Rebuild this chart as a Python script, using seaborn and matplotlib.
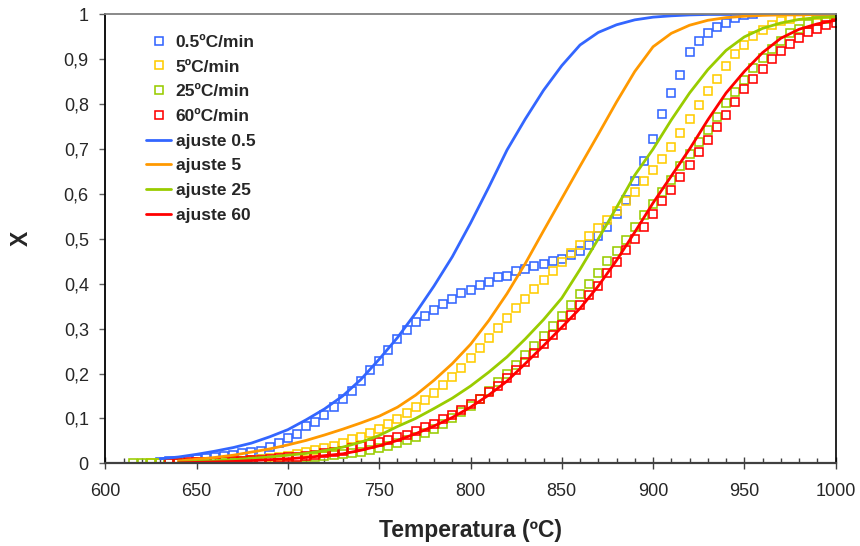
import numpy as np
import pandas as pd
import matplotlib
matplotlib.use("Agg")
import matplotlib.pyplot as plt
import seaborn as sns
from matplotlib.ticker import MultipleLocator, FuncFormatter

# ---- measured conversion X vs temperature (ºC), one reading every 5 ºC ----
t_05 = list(range(630, 956, 5))
x_05 = [0.003, 0.004, 0.005, 0.007, 0.009, 0.011, 0.013, 0.016, 0.018, 0.022,
        0.025, 0.028, 0.036, 0.046, 0.057, 0.066, 0.083, 0.091, 0.108, 0.126,
        0.143, 0.162, 0.184, 0.207, 0.228, 0.253, 0.277, 0.297, 0.315, 0.328,
        0.342, 0.355, 0.367, 0.379, 0.386, 0.398, 0.405, 0.414, 0.417, 0.428,
        0.433, 0.439, 0.445, 0.450, 0.456, 0.465, 0.474, 0.487, 0.506, 0.527,
        0.556, 0.587, 0.629, 0.673, 0.723, 0.779, 0.826, 0.865, 0.917, 0.941,
        0.958, 0.972, 0.980, 0.992, 0.998, 1.000]

t_5 = list(range(625, 1001, 5))
x_5 = [0.000, 0.000, 0.000, 0.001, 0.001, 0.002, 0.002, 0.003, 0.004, 0.005,
       0.006, 0.008, 0.009, 0.011, 0.013, 0.016, 0.020, 0.025, 0.030, 0.033,
       0.038, 0.046, 0.053, 0.058, 0.067, 0.076, 0.087, 0.098, 0.112, 0.125,
       0.140, 0.156, 0.174, 0.193, 0.213, 0.234, 0.257, 0.279, 0.301, 0.324,
       0.346, 0.367, 0.388, 0.409, 0.429, 0.449, 0.469, 0.487, 0.506, 0.525,
       0.543, 0.562, 0.584, 0.604, 0.628, 0.653, 0.679, 0.705, 0.737, 0.768,
       0.798, 0.829, 0.857, 0.886, 0.911, 0.933, 0.951, 0.966, 0.977, 0.985,
       0.991, 0.996, 0.998, 0.999, 1.000, 1.000]

t_25 = list(range(615, 1001, 5))
x_25 = [0.000, 0.000, 0.000, 0.000, 0.000, 0.000, 0.001, 0.001, 0.001, 0.002,
        0.002, 0.003, 0.003, 0.004, 0.005, 0.006, 0.008, 0.009, 0.011, 0.013,
        0.015, 0.017, 0.019, 0.021, 0.024, 0.026, 0.030, 0.033, 0.039, 0.045,
        0.052, 0.058, 0.067, 0.076, 0.088, 0.100, 0.114, 0.128, 0.143, 0.161,
        0.180, 0.200, 0.219, 0.241, 0.262, 0.284, 0.306, 0.329, 0.353, 0.378,
        0.399, 0.425, 0.450, 0.474, 0.498, 0.527, 0.554, 0.578, 0.604, 0.631,
        0.662, 0.689, 0.716, 0.742, 0.772, 0.802, 0.828, 0.855, 0.881, 0.903,
        0.923, 0.941, 0.959, 0.967, 0.978, 0.986, 0.991, 0.997]

t_60 = list(range(635, 1001, 5))
x_60 = [0.001, 0.001, 0.002, 0.002, 0.003, 0.003, 0.004, 0.005, 0.006, 0.007,
        0.008, 0.009, 0.011, 0.013, 0.015, 0.017, 0.019, 0.022, 0.025, 0.028,
        0.033, 0.039, 0.042, 0.047, 0.052, 0.058, 0.063, 0.071, 0.080, 0.088,
        0.098, 0.108, 0.119, 0.132, 0.143, 0.158, 0.173, 0.190, 0.208, 0.225,
        0.245, 0.266, 0.286, 0.309, 0.330, 0.352, 0.374, 0.396, 0.424, 0.448,
        0.476, 0.500, 0.527, 0.556, 0.585, 0.609, 0.637, 0.664, 0.693, 0.721,
        0.749, 0.777, 0.806, 0.833, 0.856, 0.878, 0.900, 0.919, 0.935, 0.948,
        0.960, 0.968, 0.976, 0.981]

# ---- fitted model curves, one value every 10 ºC ----
tf_05 = list(range(630, 1001, 10))
xf_05 = [0.010, 0.014, 0.020, 0.027, 0.035, 0.045, 0.059, 0.075, 0.097, 0.121,
         0.150, 0.187, 0.232, 0.280, 0.335, 0.395, 0.460, 0.535, 0.615, 0.698,
         0.767, 0.831, 0.886, 0.932, 0.960, 0.977, 0.988, 0.994, 0.997, 0.999,
         1.000, 1.000, 1.000, 1.000, 1.000, 1.000, 1.000, 1.000]

tf_5 = list(range(640, 1001, 10))
xf_5 = [0.005, 0.009, 0.013, 0.018, 0.025, 0.032, 0.041, 0.051, 0.063, 0.076,
        0.090, 0.105, 0.125, 0.152, 0.185, 0.222, 0.265, 0.318, 0.378, 0.445,
        0.518, 0.590, 0.662, 0.733, 0.805, 0.873, 0.928, 0.958, 0.976, 0.987,
        0.993, 0.996, 0.998, 0.999, 0.999, 1.000, 1.000]

tf_25 = list(range(640, 1001, 10))
xf_25 = [0.002, 0.004, 0.006, 0.008, 0.011, 0.014, 0.018, 0.022, 0.028, 0.036,
         0.047, 0.062, 0.082, 0.100, 0.122, 0.145, 0.172, 0.203, 0.237, 0.277,
         0.320, 0.368, 0.432, 0.500, 0.570, 0.642, 0.700, 0.765, 0.825, 0.877,
         0.920, 0.950, 0.969, 0.981, 0.989, 0.993, 0.995]

tf_60 = list(range(640, 1001, 10))
xf_60 = [0.001, 0.002, 0.003, 0.004, 0.006, 0.008, 0.010, 0.013, 0.017, 0.021,
         0.029, 0.039, 0.051, 0.066, 0.083, 0.102, 0.125, 0.152, 0.183, 0.222,
         0.262, 0.303, 0.345, 0.395, 0.452, 0.515, 0.580, 0.640, 0.700, 0.765,
         0.825, 0.873, 0.915, 0.947, 0.967, 0.979, 0.987]

point_labels = ["0.5ºC/min", "5ºC/min", "25ºC/min", "60ºC/min"]
fit_labels = ["ajuste 0.5", "ajuste 5", "ajuste 25", "ajuste 60"]
point_colors = ["#3366FF", "#FFCC00", "#99CC00", "#FF0000"]
fit_colors = ["#3366FF", "#FF9900", "#99CC00", "#FF0000"]

x_ticks = list(range(600, 1001, 50))
y_ticks = [round(0.1 * i, 1) for i in range(11)]

sns.set_theme(style="white")
plt.rcParams["font.family"] = ["Liberation Sans", "DejaVu Sans"]

fig = plt.figure(figsize=(8.6, 5.46), dpi=100)
ax = fig.add_axes([0.1226, 0.1515, 0.849, 0.822])

points = [(t_05, x_05), (t_5, x_5), (t_25, x_25), (t_60, x_60)]
fits = [(tf_05, xf_05), (tf_5, xf_5), (tf_25, xf_25), (tf_60, xf_60)]

# experimental points: hollow squares
for (t, x), lab, col in zip(points, point_labels, point_colors):
    df = pd.DataFrame({"T": t, "X": x})
    sns.lineplot(data=df, x="T", y="X", ax=ax, estimator=None, sort=False,
                 linestyle="", marker="s", markersize=6.2,
                 markerfacecolor="none", markeredgecolor=col,
                 markeredgewidth=1.15, color=col, label=lab)

# model fits: solid lines drawn over the points
for (t, x), lab, col in zip(fits, fit_labels, fit_colors):
    df = pd.DataFrame({"T": t, "X": x})
    sns.lineplot(data=df, x="T", y="X", ax=ax, estimator=None, sort=False,
                 color=col, linewidth=2.0, label=lab)

ax.set_xlim(600, 1000)
ax.set_ylim(0, 1)
ax.set_xticks(x_ticks)
ax.set_yticks(y_ticks)
ax.xaxis.set_minor_locator(MultipleLocator(10))


def comma_fmt(v, _pos):
    if abs(v) < 1e-9:
        return "0"
    if abs(v - 1) < 1e-9:
        return "1"
    return f"{v:.1f}".replace(".", ",")


ax.yaxis.set_major_formatter(FuncFormatter(comma_fmt))

ax.tick_params(axis="x", which="major", direction="inout", length=8, width=1,
               color="#404040", labelsize=13, pad=10, bottom=True)
ax.tick_params(axis="x", which="minor", direction="in", length=3.5, width=1,
               color="#404040", bottom=True)
ax.tick_params(axis="y", which="major", direction="out", length=4, width=1,
               color="#606060", labelsize=13, pad=8, left=True)

for side, col, lw in [("left", "black", 1.3), ("bottom", "#404040", 1.6),
                      ("top", "#808080", 1.3), ("right", "black", 1.2)]:
    ax.spines[side].set_visible(True)
    ax.spines[side].set_color(col)
    ax.spines[side].set_linewidth(lw)

ax.set_xlabel("Temperatura (ºC)", fontsize=16.5, fontweight="bold", labelpad=14)
ax.set_ylabel("X", fontsize=16.5, fontweight="bold", labelpad=22, rotation=90)

handles, labels = ax.get_legend_handles_labels()
leg = ax.legend(handles, labels, loc="upper left",
                bbox_to_anchor=(0.0556, 0.955), frameon=False,
                prop={"weight": "bold", "size": 12.5},
                handlelength=1.45, handletextpad=0.25, labelspacing=0.55,
                borderpad=0, borderaxespad=0)

fig.savefig("out.png", dpi=100)
